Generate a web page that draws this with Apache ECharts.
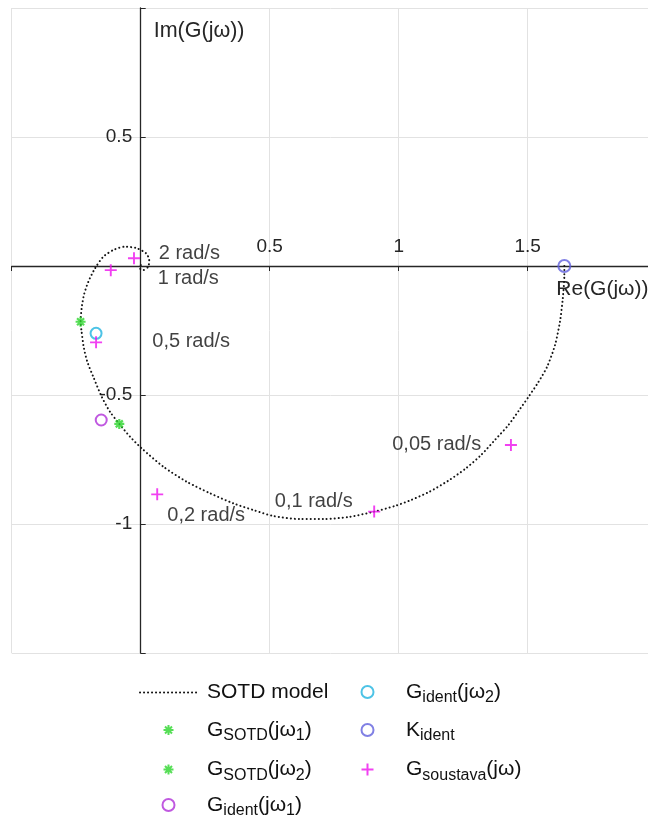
<!DOCTYPE html>
<html><head><meta charset="utf-8">
<script src="https://cdn.jsdelivr.net/npm/echarts@6/dist/echarts.min.js"></script>
<style>html,body{margin:0;padding:0;background:#fff}#c{width:648px;height:821px}</style>
</head><body><div id="c"></div>
<script>
// SOTD model Nyquist curve
const curveX = [1.642,1.642,1.636,1.625,1.606,1.575,1.540,1.504,1.466,1.425,1.375,1.319,1.257,1.191,1.117,1.048,0.986,0.905,0.811,0.708,0.617,0.514,0.443,0.359,0.269,0.178,0.088,0.004,-0.041,-0.083,-0.119,-0.151,-0.184,-0.207,-0.220,-0.229,-0.233,-0.229,-0.220,-0.203,-0.177,-0.145,-0.106,-0.061,-0.016,0.021,0.033,0.029,0.010,-0.005,0.001];
const curveY = [0.000,-0.035,-0.125,-0.216,-0.306,-0.391,-0.452,-0.506,-0.560,-0.617,-0.672,-0.733,-0.787,-0.833,-0.876,-0.907,-0.930,-0.952,-0.972,-0.981,-0.981,-0.969,-0.948,-0.920,-0.881,-0.836,-0.778,-0.707,-0.662,-0.612,-0.565,-0.507,-0.429,-0.371,-0.319,-0.255,-0.216,-0.164,-0.112,-0.061,-0.009,0.036,0.062,0.075,0.069,0.049,0.023,-0.003,-0.016,-0.007,0.004];

const sotd1X = [-0.233], sotd1Y = [-0.216];
const sotd2X = [-0.083], sotd2Y = [-0.612];
const ident1X = [-0.153], ident1Y = [-0.597];
const ident2X = [-0.173], ident2Y = [-0.261];
const kIdentX = [1.642], kIdentY = [0.0];
const soustavaX = [-0.026,-0.116,-0.173,0.064,0.905,1.435];
const soustavaY = [0.030,-0.016,-0.296,-0.885,-0.952,-0.694];

const annText = ['2 rad/s','1 rad/s','0,5 rad/s','0,2 rad/s','0,1 rad/s','0,05 rad/s'];
const annX = [0.068,0.064,0.043,0.101,0.518,0.973];
const annY = [0.047,-0.048,-0.293,-0.968,-0.914,-0.691];

const xTickVals = [0.5,1,1.5], xTickText = ['0.5','1','1.5'];
const yTickVals = [0.5,-0.5,-1], yTickText = ['0.5','-0.5','-1'];

const FONT = "'Liberation Sans', Arial, Helvetica, sans-serif";
const TXT = '#262626';
const STAR = 'path://M0,5L10,5M5,0L5,10M1.5,1.5L8.5,8.5M8.5,1.5L1.5,8.5';
const PLUS = 'path://M0,5L10,5M5,0L5,10';
const CLEAR = 'rgba(0,0,0,0)';

const pairs = (xs, ys) => xs.map((x, i) => [x, ys[i]]);

const legendText = {
  'SOTD model': '{n|SOTD model}',
  'G_SOTD1': '{n|G}{s|SOTD}{n|(jω}{s|1}{n|)}',
  'G_SOTD2': '{n|G}{s|SOTD}{n|(jω}{s|2}{n|)}',
  'G_ident1': '{n|G}{s|ident}{n|(jω}{s|1}{n|)}',
  'G_ident2': '{n|G}{s|ident}{n|(jω}{s|2}{n|)}',
  'K_ident': '{n|K}{s|ident}',
  'G_soustava': '{n|G}{s|soustava}{n|(jω)}'
};
const rich = {
  g: {width: 5, lineHeight: 28, fontSize: 21, fontFamily: FONT},
  n: {fontSize: 21, lineHeight: 28, color: '#111', fontFamily: FONT},
  s: {fontSize: 16, lineHeight: 10, verticalAlign: 'bottom', color: '#111', fontFamily: FONT}
};
const IW = 57;
// left = left edge of the icon box; icons narrower than IW are centred in it
function leg(name, left, cy, h, isLine) {
  return {
    data: [name], left: isLine ? left : left + (IW - h) / 2, top: cy - 9.5, padding: 0, orient: 'horizontal',
    itemWidth: IW, itemHeight: h, selectedMode: false,
    formatter: n => '{g| }' + legendText[n],
    textStyle: {rich: rich}
  };
}

const chart = echarts.init(document.getElementById('c'), null, {renderer: 'canvas'});
chart.setOption({
  animation: false,
  backgroundColor: '#fff',
  grid: {left: 11.7, top: 8, width: 645, height: 645, containLabel: false, outerBoundsMode: 'none'},
  xAxis: {
    type: 'value', min: -0.5, max: 2, interval: 0.5, position: 'bottom', offset: -387,
    name: 'Re(G(jω))', nameLocation: 'end', nameGap: -8.2, nameMoveOverlap: false,
    nameTextStyle: {fontSize: 21, color: TXT, fontFamily: FONT, align: 'right', verticalAlign: 'top', lineHeight: 46},
    axisLine: {onZero: false, lineStyle: {color: TXT, width: 1.3}},
    axisTick: {show: true, inside: false, length: 5, lineStyle: {color: TXT, width: 1}},
    axisLabel: {inside: true, margin: 10, fontSize: 19, color: TXT, fontFamily: FONT,
      formatter: v => { const i = xTickVals.findIndex(t => Math.abs(t - v) < 1e-9); return i >= 0 ? xTickText[i] : ''; }},
    splitLine: {show: true, lineStyle: {color: '#e2e2e2', width: 1}}
  },
  yAxis: {
    type: 'value', min: -1.5, max: 1, interval: 0.5, position: 'left', offset: -129,
    name: 'Im(G(jω))', nameLocation: 'end', nameGap: -23, nameMoveOverlap: false,
    nameTextStyle: {fontSize: 21.5, color: TXT, fontFamily: FONT, align: 'left', verticalAlign: 'middle', padding: [0, 0, 0, 13]},
    axisLine: {onZero: false, lineStyle: {color: TXT, width: 1.3}},
    axisTick: {show: true, inside: true, length: 5, lineStyle: {color: TXT, width: 1}},
    axisLabel: {margin: 8.5, fontSize: 19, color: TXT, fontFamily: FONT, padding: [6, 0, 0, 0],
      formatter: v => { const i = yTickVals.findIndex(t => Math.abs(t - v) < 1e-9); return i >= 0 ? yTickText[i] : ''; }},
    splitLine: {show: true, lineStyle: {color: '#e2e2e2', width: 1}}
  },
  legend: [
    leg('SOTD model', 139, 691.5, 12, true),
    leg('G_SOTD1', 139, 729, 10),
    leg('G_SOTD2', 139, 768.5, 10),
    leg('G_ident1', 139, 804, 12),
    leg('G_ident2', 338, 691, 12),
    leg('K_ident', 338, 729, 12),
    leg('G_soustava', 338, 768.5, 12)
  ],
  series: [
    {type: 'line', name: 'SOTD model', data: pairs(curveX, curveY), symbol: 'none', smooth: 0.25,
      itemStyle: {color: CLEAR, borderWidth: 0},
      lineStyle: {color: '#151515', width: 2, type: [0.1, 3.9], cap: 'round'}, z: 2, silent: true},
    {type: 'scatter', name: 'G_SOTD1', data: pairs(sotd1X, sotd1Y), symbol: STAR, symbolSize: 10,
      itemStyle: {color: CLEAR, borderColor: '#2cd62c', borderWidth: 2.2}, z: 3, silent: true},
    {type: 'scatter', name: 'G_SOTD2', data: pairs(sotd2X, sotd2Y), symbol: STAR, symbolSize: 10,
      itemStyle: {color: CLEAR, borderColor: '#2cd62c', borderWidth: 2.2}, z: 3, silent: true},
    {type: 'scatter', name: 'G_ident1', data: pairs(ident1X, ident1Y), symbol: 'circle', symbolSize: 11,
      itemStyle: {color: CLEAR, borderColor: '#b030d8', borderWidth: 2}, z: 3, silent: true},
    {type: 'scatter', name: 'G_ident2', data: pairs(ident2X, ident2Y), symbol: 'circle', symbolSize: 11,
      itemStyle: {color: CLEAR, borderColor: '#20b4e0', borderWidth: 2}, z: 3, silent: true},
    {type: 'scatter', name: 'K_ident', data: pairs(kIdentX, kIdentY), symbol: 'circle', symbolSize: 12,
      itemStyle: {color: CLEAR, borderColor: '#6060dd', borderWidth: 2}, z: 3, silent: true},
    {type: 'scatter', name: 'G_soustava', data: pairs(soustavaX, soustavaY), symbol: PLUS, symbolSize: 12,
      itemStyle: {color: CLEAR, borderColor: '#ee11ee', borderWidth: 1.9}, z: 4, silent: true},
    {type: 'scatter', name: 'ann', data: annX.map((x, i) => ({value: [x, annY[i]], name: annText[i]})),
      symbol: 'circle', symbolSize: 1, itemStyle: {color: CLEAR}, z: 5, silent: true,
      label: {show: true, position: 'right', distance: 0, formatter: p => p.name, color: '#111', fontSize: 20, fontFamily: FONT}}
  ]
});
</script></body></html>
